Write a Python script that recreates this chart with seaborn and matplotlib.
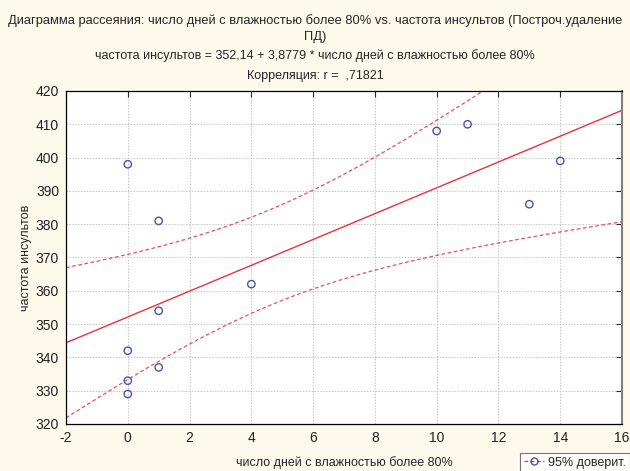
import numpy as np
import pandas as pd
import matplotlib
matplotlib.use("Agg")
import matplotlib.pyplot as plt
from matplotlib.lines import Line2D
import seaborn as sns

# data
days_humid = [0, 1, 1, 0, 0, 0, 1, 4, 10, 11, 13, 14]
stroke_rate = [398, 381, 354, 342, 333, 329, 337, 362, 408, 410, 386, 399]

x_ticks = [-2, 0, 2, 4, 6, 8, 10, 12, 14, 16]
y_ticks = [320, 330, 340, 350, 360, 370, 380, 390, 400, 410, 420]

title_text = ("Диаграмма рассеяния: число дней с влажностью более 80% vs. частота инсультов (Построч.удаление\nПД)")
eq_text = "частота инсультов = 352,14 + 3,8779 * число дней с влажностью более 80%"
corr_text = "Корреляция: r =  ,71821"
x_label = "число дней с влажностью более 80%"
y_label = "частота инсультов"
legend_label = "95% доверит."

df = pd.DataFrame({"x": days_humid, "y": stroke_rate})

# linear fit + 95% confidence band for the mean
x = df["x"].to_numpy(float)
y = df["y"].to_numpy(float)
n = len(x)
b1, b0 = np.polyfit(x, y, 1)
resid = y - (b0 + b1 * x)
s = np.sqrt((resid ** 2).sum() / (n - 2))
t_crit = 2.228  # t(0.975, df=10)
xs = np.linspace(-2, 16, 200)
fit = b0 + b1 * xs
se = s * np.sqrt(1 / n + (xs - x.mean()) ** 2 / ((x - x.mean()) ** 2).sum())
fit_df = pd.DataFrame({"x": xs, "fit": fit, "lo": fit - t_crit * se, "hi": fit + t_crit * se})

sns.set_style("white")
plt.rcParams["font.family"] = ["Liberation Sans", "DejaVu Sans"]

bg = "#FDF9EC"
red = "#E8323C"
blue = "#4656A8"

fig = plt.figure(figsize=(6.3, 4.71), dpi=100, facecolor=bg)
ax = fig.add_axes([0.1048, 0.0998, 0.8825, 0.707])
ax.set_facecolor("white")

sns.lineplot(data=fit_df, x="x", y="fit", ax=ax, color=red, linewidth=1.0)
sns.lineplot(data=fit_df, x="x", y="lo", ax=ax, color=red, linewidth=0.9, linestyle=(0, (3, 2)), alpha=0.85)
sns.lineplot(data=fit_df, x="x", y="hi", ax=ax, color=red, linewidth=0.9, linestyle=(0, (3, 2)), alpha=0.85)
sns.scatterplot(data=df, x="x", y="y", ax=ax, marker="o", s=28, facecolor="none",
                edgecolor=blue, linewidth=1.0, zorder=5)

ax.set_xlim(-2, 16)
ax.set_ylim(320, 420)
ax.set_xticks(x_ticks)
ax.set_yticks(y_ticks)
ax.set_xticklabels([str(v) for v in x_ticks])
ax.set_yticklabels([str(v) for v in y_ticks])
ax.grid(True, color="#C4C4C4", linestyle=(0, (1.5, 1.5)), linewidth=0.7)
ax.tick_params(axis="both", direction="in", length=4, width=0.8, labelsize=10,
               top=True, right=True, labelcolor="#222222", pad=5)
for side in ["left", "top", "bottom"]:
    ax.spines[side].set_color("black")
    ax.spines[side].set_linewidth(0.9)
ax.spines["right"].set_color("#808080")
ax.spines["right"].set_linewidth(1.5)

ax.set_xlabel(x_label, fontsize=9, labelpad=8)
ax.set_ylabel(y_label, fontsize=9, labelpad=3)

fig.text(0.5, 0.97, title_text, ha="center", va="top", fontsize=9.3, linespacing=1.4)
fig.text(0.5, 0.895, eq_text, ha="center", va="top", fontsize=9)
fig.text(0.5, 0.852, corr_text, ha="center", va="top", fontsize=9)

handle = Line2D([0], [0], color=red, linestyle=(0, (3, 2)), linewidth=0.9,
                marker="o", markerfacecolor="none", markeredgecolor=blue, markersize=5)
leg = fig.legend([handle], [legend_label], loc="upper left", bbox_to_anchor=(0.826, 0.038),
                 fontsize=9, frameon=True, fancybox=False, borderpad=0.3,
                 handlelength=1.6, handletextpad=0.3, borderaxespad=0)
leg.get_frame().set_edgecolor("#555555")
leg.get_frame().set_facecolor("white")
leg.get_frame().set_linewidth(0.8)

fig.savefig("out.png", dpi=100, facecolor=bg)
